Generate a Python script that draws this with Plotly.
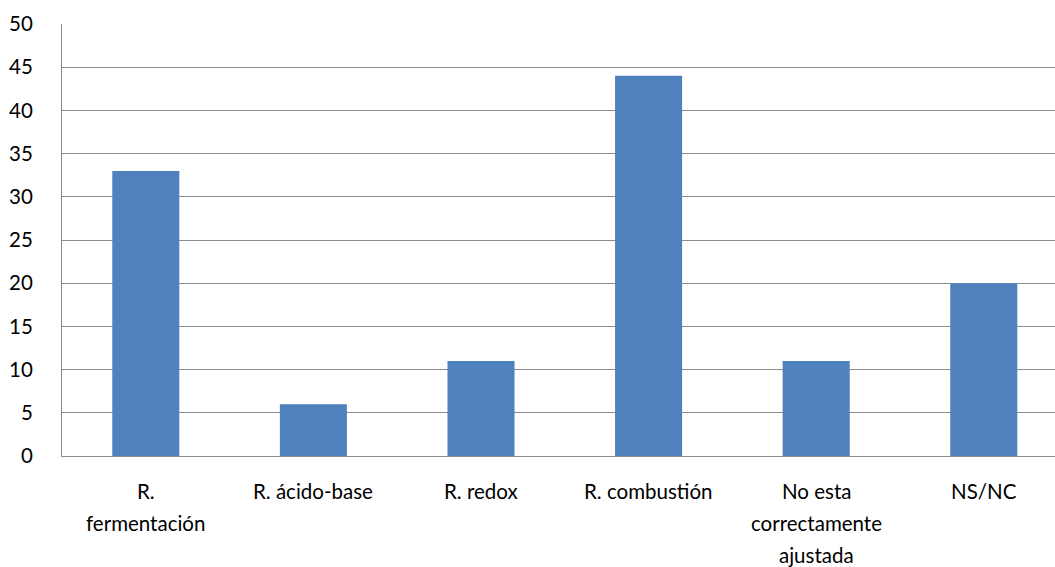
import plotly.graph_objects as go

# Categories (each entry holds the label lines as rendered under the axis)
categories = ["R. fermentación", "R. ácido-base", "R. redox", "R. combustión",
              "No esta correctamente ajustada", "NS/NC"]
label_lines = [["R.", "fermentación"], ["R. ácido-base"], ["R. redox"],
               ["R. combustión"], ["No esta", "correctamente", "ajustada"], ["NS/NC"]]
values = [33, 6, 11, 44, 11, 20]
y_ticks = [0, 5, 10, 15, 20, 25, 30, 35, 40, 45, 50]

FONT = "Lato"
FONT_SIZE = 20.5
GRID = "#8c8c8c"

fig = go.Figure(
    go.Bar(
        x=categories,
        y=values,
        marker=dict(color="#4f81bd", line=dict(width=0)),
        width=0.40,
    )
)

# Category labels drawn line by line for wider line spacing
annotations = []
for cat, lines in zip(categories, label_lines):
    for i, line in enumerate(lines):
        annotations.append(dict(
            x=cat, xref="x", y=0, yref="paper",
            text=line, showarrow=False,
            yanchor="middle", xanchor="center",
            yshift=-35 - 32 * i,
            font=dict(family=FONT, size=FONT_SIZE, color="#000000"),
        ))

fig.update_layout(
    width=1055, height=567,
    margin=dict(l=62, r=0, t=24, b=111),
    plot_bgcolor="white", paper_bgcolor="white",
    showlegend=False,
    annotations=annotations,
    font=dict(family=FONT, size=FONT_SIZE, color="#000000"),
)
fig.update_xaxes(
    range=[-0.5, 5.425],
    showticklabels=False, showgrid=False,
    showline=True, linecolor=GRID, linewidth=1,
    ticks="",
)
fig.update_yaxes(
    range=[0, 50], tickvals=y_ticks,
    showgrid=True, gridcolor=GRID, gridwidth=1,
    showline=True, linecolor=GRID, linewidth=1,
    zeroline=False, ticks="", ticklabelstandoff=24,
    tickfont=dict(family=FONT, size=FONT_SIZE, color="#000000"),
)

fig.write_html("out.html")
